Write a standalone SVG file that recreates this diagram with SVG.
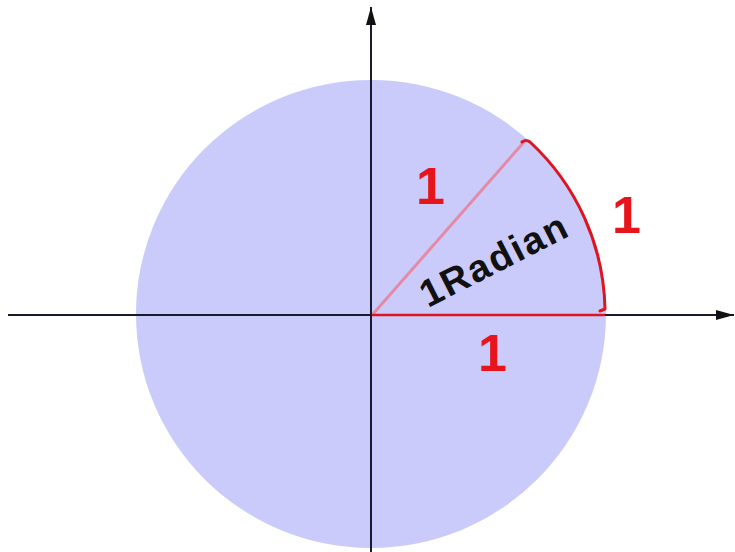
<svg xmlns="http://www.w3.org/2000/svg" width="735" height="552" viewBox="0 0 735 552">
<style>
.axis{stroke:#1a1a2e;stroke-width:2;fill:none}
.red{stroke:#e0141e;fill:none;stroke-linecap:round;stroke-linejoin:round}
.lbl{font-family:"Liberation Sans",Arial,sans-serif;font-size:52px;font-weight:bold;fill:#e8141c}
.rad{font-family:"Liberation Sans",Arial,sans-serif;font-size:38px;font-weight:bold;letter-spacing:2px;fill:#111}
</style>
<defs>
<marker id="ah" markerWidth="20" markerHeight="12" refX="18" refY="6" orient="auto" markerUnits="userSpaceOnUse">
<path d="M0,1 L18,6 L0,11 Z" fill="#111"/>
</marker>
</defs>
<rect width="735" height="552" fill="#ffffff"/>
<g id="circle">
<ellipse cx="371" cy="314" rx="235" ry="234" fill="#cbcbfb"/>
</g>
<g id="connectors">
<line class="axis" x1="8" y1="315" x2="734" y2="315" marker-end="url(#ah)"/>
<line class="axis" x1="371" y1="552" x2="371" y2="7" marker-end="url(#ah)"/>
<line x1="373" y1="314" x2="524" y2="142" stroke="#e48aa6" stroke-width="3"/>
<line x1="372" y1="315" x2="605" y2="315" stroke="#e0141e" stroke-width="2.5"/>
<path class="red" stroke-width="3" d="M522,142 Q526,139 530,142 A234,234 0 0 1 605,309 L600,311"/>
</g>
<g id="labels">
<text class="lbl" x="416" y="204">1</text>
<text class="lbl" x="612" y="233">1</text>
<text class="lbl" x="478" y="371">1</text>
<text class="rad" transform="translate(428,308) rotate(-27)">1Radian</text>
</g>
</svg>
